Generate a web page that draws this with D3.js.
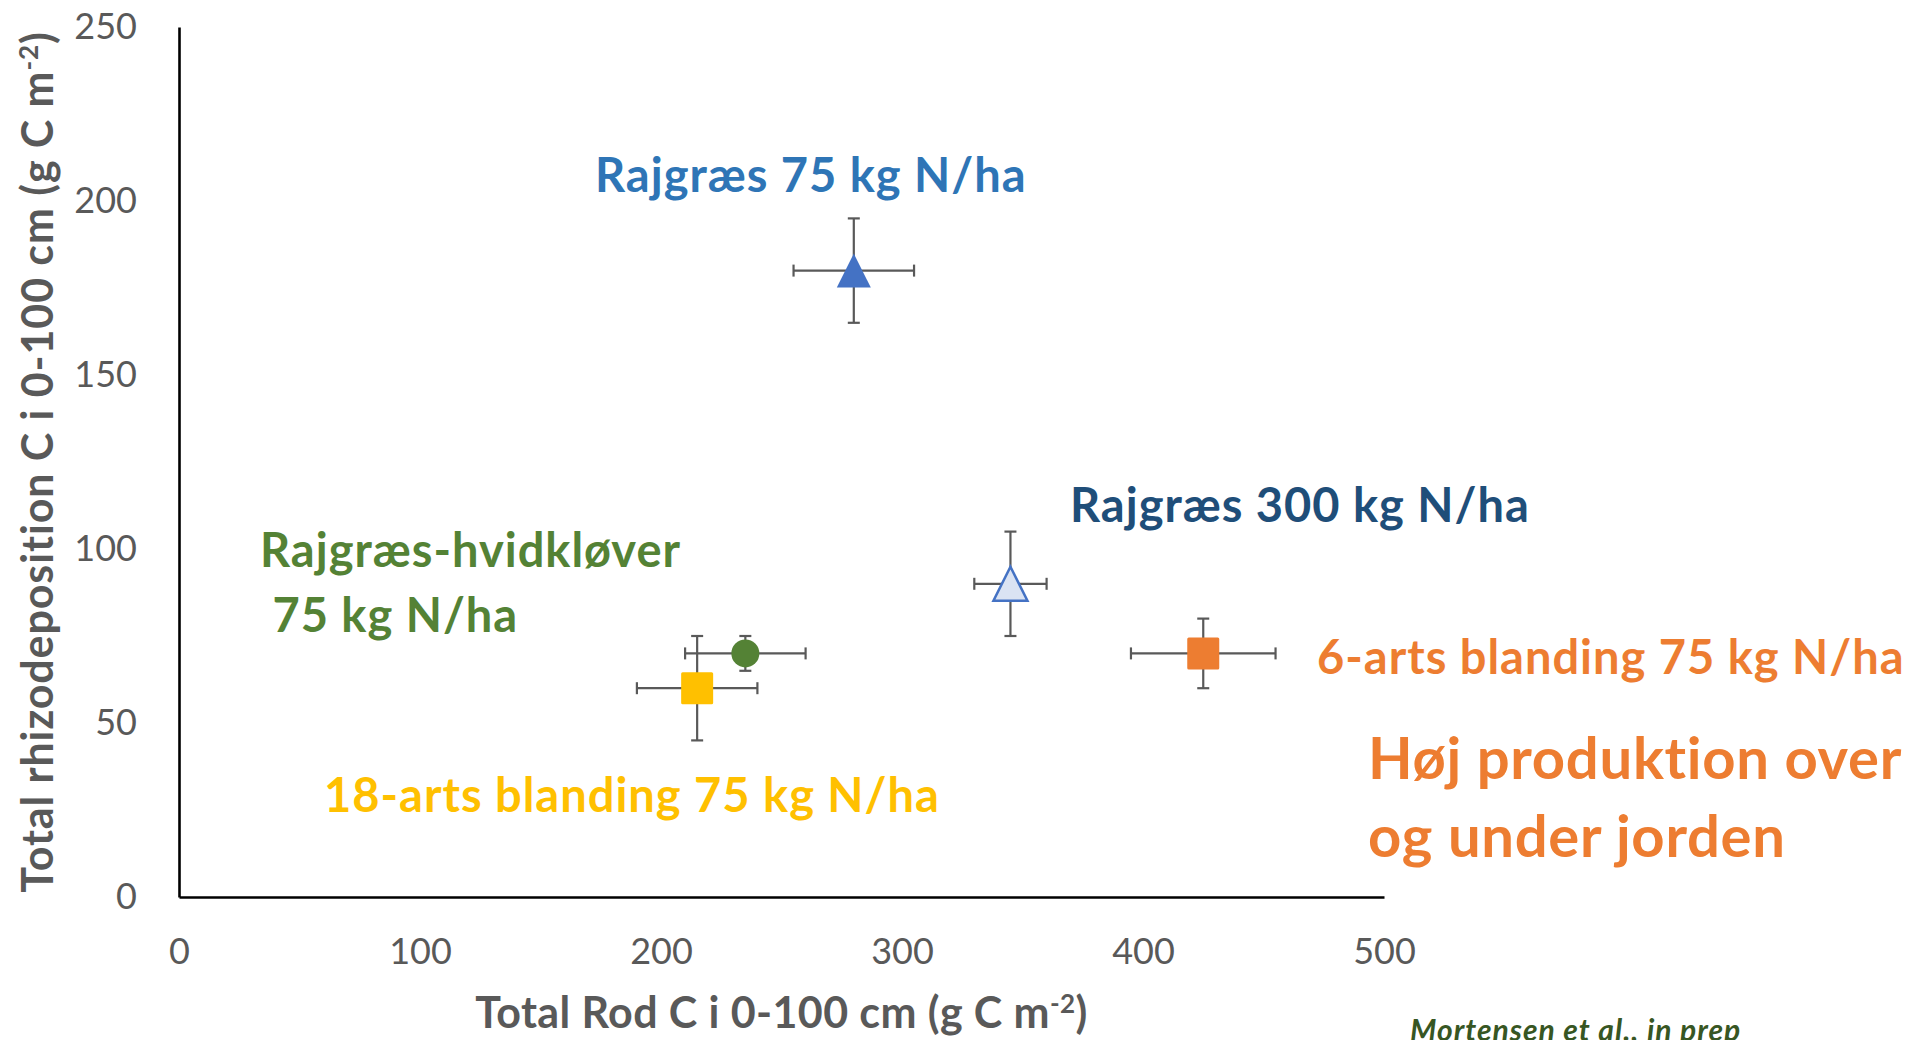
<!DOCTYPE html>
<html>
<head>
<meta charset="utf-8">
<script src="https://cdn.jsdelivr.net/npm/d3@7"></script>
<style>
  html, body { margin: 0; padding: 0; background: #fff; }
  svg { display: block; font-family: Lato, "Open Sans", sans-serif; }
</style>
</head>
<body>
<svg id="chart" width="1931" height="1040"></svg>
<script>
// Treatments and their root C (x) vs rhizodeposition C (y), with ± errors
const treatments = ["Rajgræs 75 kg N/ha", "Rajgræs 300 kg N/ha", "Rajgræs-hvidkløver 75 kg N/ha", "18-arts blanding 75 kg N/ha", "6-arts blanding 75 kg N/ha"];
const rootC      = [280, 345, 235, 215, 425];
const rootErr    = [25, 15, 25, 25, 30];
const rhizoC     = [180, 90, 70, 60, 70];
const rhizoErr   = [15, 15, 5, 15, 10];
const markers    = ["triangle", "triangle", "circle", "square", "square"];
const fills      = ["#4472C4", "#DAE3F3", "#548235", "#FFC000", "#ED7D31"];
const strokes    = ["none", "#4472C4", "none", "none", "none"];

const xTicks = [0, 100, 200, 300, 400, 500];
const yTicks = [0, 50, 100, 150, 200, 250];

const xTitle = "Total Rod C i 0-100 cm (g C m";
const yTitle = "Total rhizodeposition C i 0-100 cm (g C m";

const svg = d3.select("#chart");

const x = d3.scaleLinear().domain([0, 500]).range([179, 1384]);
const y = d3.scaleLinear().domain([0, 250]).range([897, 27]);

const tickColor = "#595959";

// Axes: plain black lines, no tick marks
const gx = svg.append("g")
  .attr("transform", `translate(0,${y(0)})`)
  .call(d3.axisBottom(x).tickValues(xTicks).tickSize(0).tickPadding(41).tickSizeOuter(0));
const gy = svg.append("g")
  .attr("transform", `translate(${x(0)},0)`)
  .call(d3.axisLeft(y).tickValues(yTicks).tickSize(0).tickPadding(42).tickSizeOuter(0));

[gx, gy].forEach(g => {
  g.select(".domain").attr("stroke", "#000").attr("stroke-width", 2.6);
  g.selectAll(".tick text")
    .attr("fill", tickColor)
    .style("font-family", "Lato, sans-serif")
    .style("font-size", "36px");
});

// Axis titles with superscript -2
const xt = svg.append("text")
  .attr("x", (x(0) + x(500)) / 2).attr("y", 1028)
  .attr("text-anchor", "middle")
  .attr("fill", tickColor)
  .style("font-size", "43px").style("font-weight", 700).style("letter-spacing", "0.4px")
  .text(xTitle);
xt.append("tspan").attr("dy", -15).style("font-size", "26px").text("-2");
xt.append("tspan").attr("dy", 15).text(")");

const yt = svg.append("text")
  .attr("transform", `translate(53,${(y(0) + y(250)) / 2}) rotate(-90)`)
  .attr("text-anchor", "middle")
  .attr("fill", tickColor)
  .style("font-size", "43px").style("font-weight", 700).style("letter-spacing", "0.9px")
  .text(yTitle);
yt.append("tspan").attr("dy", -15).style("font-size", "26px").text("-2");
yt.append("tspan").attr("dy", 15).text(")");

// Error bars
const pts = treatments.map((t, i) => ({
  name: t, x: rootC[i], xe: rootErr[i], y: rhizoC[i], ye: rhizoErr[i],
  marker: markers[i], fill: fills[i], stroke: strokes[i]
}));

const cap = 6;
const eb = svg.append("g").attr("stroke", "#595959").attr("stroke-width", 2.2).attr("fill", "none");
pts.forEach(d => {
  const cx = x(d.x), cy = y(d.y);
  const x0 = x(d.x - d.xe), x1 = x(d.x + d.xe);
  const y0 = y(d.y - d.ye), y1 = y(d.y + d.ye);
  eb.append("line").attr("x1", x0).attr("x2", x1).attr("y1", cy).attr("y2", cy);
  eb.append("line").attr("x1", x0).attr("x2", x0).attr("y1", cy - cap).attr("y2", cy + cap);
  eb.append("line").attr("x1", x1).attr("x2", x1).attr("y1", cy - cap).attr("y2", cy + cap);
  eb.append("line").attr("x1", cx).attr("x2", cx).attr("y1", y0).attr("y2", y1);
  eb.append("line").attr("x1", cx - cap).attr("x2", cx + cap).attr("y1", y0).attr("y2", y0);
  eb.append("line").attr("x1", cx - cap).attr("x2", cx + cap).attr("y1", y1).attr("y2", y1);
});

// Markers
const mk = svg.append("g");
pts.forEach(d => {
  const cx = x(d.x), cy = y(d.y);
  let el;
  if (d.marker === "triangle") {
    const h = 17;
    el = mk.append("path").attr("d", `M${cx},${cy - h}L${cx + h},${cy + h}L${cx - h},${cy + h}Z`);
  } else if (d.marker === "square") {
    const h = 16;
    el = mk.append("rect").attr("x", cx - h).attr("y", cy - h).attr("width", 2 * h).attr("height", 2 * h).attr("rx", 1.5);
  } else {
    el = mk.append("circle").attr("cx", cx).attr("cy", cy).attr("r", 14);
  }
  el.attr("fill", d.fill);
  if (d.stroke !== "none") el.attr("stroke", d.stroke).attr("stroke-width", 2.5);
});

// Labels next to the points
const labelLines = [
  { lines: ["Rajgræs 75 kg N/ha"], color: "#2E75B6", lx: 595, ly: 192 },
  { lines: ["Rajgræs 300 kg N/ha"], color: "#1F4E79", lx: 1070, ly: 522 },
  { lines: ["Rajgræs-hvidkløver", "\u00a075 kg N/ha"], color: "#548235", lx: 260, ly: 567 },
  { lines: ["6-arts blanding 75 kg N/ha"], color: "#ED7D31", lx: 1317, ly: 674 },
  { lines: ["18-arts blanding 75 kg N/ha"], color: "#FFC000", lx: 324, ly: 812 }
];
labelLines.forEach(l => {
  const t = svg.append("text")
    .attr("x", l.lx).attr("y", l.ly)
    .attr("fill", l.color)
    .style("font-size", "47px").style("font-weight", 700).style("letter-spacing", "1px");
  l.lines.forEach((s, i) => t.append("tspan").attr("x", l.lx).attr("dy", i === 0 ? 0 : 65).text(s));
});

// Highlight note
const note = svg.append("text")
  .attr("x", 1368).attr("y", 779)
  .attr("fill", "#ED7D31")
  .style("font-size", "58px").style("font-weight", 700).style("letter-spacing", "0.7px");
note.append("tspan").attr("x", 1368).text("Høj produktion over");
note.append("tspan").attr("x", 1368).attr("dy", 78).text("og under jorden");

// Source
svg.append("text")
  .attr("x", 1410).attr("y", 1041)
  .attr("fill", "#375623")
  .style("font-size", "30px").style("font-weight", 700).style("font-style", "italic")
  .style("letter-spacing", "1px")
  .text("Mortensen et al., in prep");
</script>
</body>
</html>
